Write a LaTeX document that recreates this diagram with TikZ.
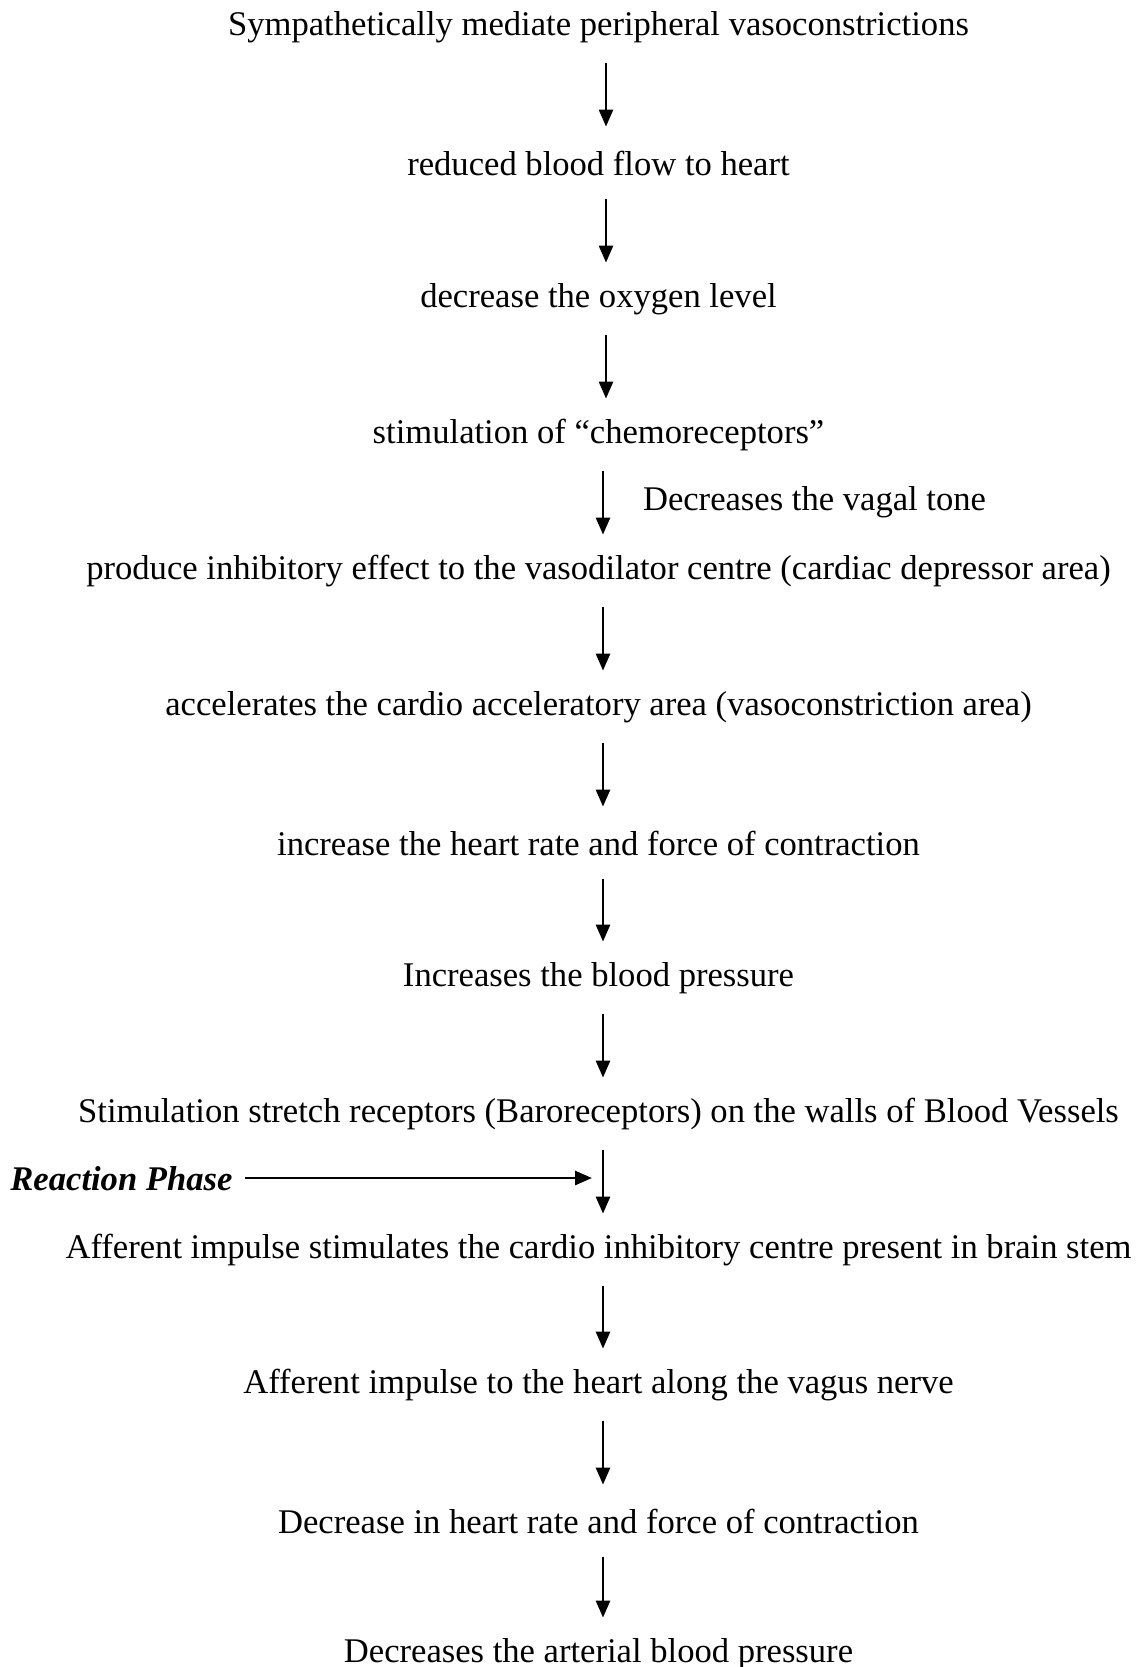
\documentclass[tikz,border=0pt]{standalone}
\usepackage{fontspec}
\setmainfont{Liberation Serif}
\usetikzlibrary{arrows.meta}
\begin{document}
\begin{tikzpicture}[x=0.5pt,y=-0.5pt,
  stepnode/.style={font=\fontsize{17.3}{20}\selectfont, inner sep=0pt, minimum height=36pt, anchor=center},
  arr/.style={line width=1.35pt, -{Triangle[length=8.5pt,width=7pt]}}]
\useasboundingbox (0,0) rectangle (1143,1667);
\node[stepnode] (n1)  at (598.5,27)   {Sympathetically mediate peripheral vasoconstrictions};
\node[stepnode] (n2)  at (598.5,163)  {reduced blood flow to heart};
\node[stepnode] (n3)  at (598.5,299)  {decrease the oxygen level};
\node[stepnode] (n4)  at (598.5,435)  {stimulation of “chemoreceptors”};
\node[stepnode] (n5)  at (598.5,571)  {produce inhibitory effect to the vasodilator centre (cardiac depressor area)};
\node[stepnode] (n6)  at (598.5,707)  {accelerates the cardio acceleratory area (vasoconstriction area)};
\node[stepnode] (n7)  at (598.5,843)  {increase the heart rate and force of contraction};
\node[stepnode] (n8)  at (598.5,978)  {Increases the blood pressure};
\node[stepnode] (n9)  at (598.5,1114) {Stimulation stretch receptors (Baroreceptors) on the walls of Blood Vessels};
\node[stepnode] (n10) at (598.5,1250) {Afferent impulse stimulates the cardio inhibitory centre present in brain stem};
\node[stepnode] (n11) at (598.5,1385) {Afferent impulse to the heart along the vagus nerve};
\node[stepnode] (n12) at (598.5,1521) {Decrease in heart rate and force of contraction};
\node[stepnode] (n13) at (598.5,1654) {Decreases the arterial blood pressure};
\node[stepnode] (vt) at (814.5,502) {Decreases the vagal tone};
\node[stepnode, font=\fontsize{17.3}{20}\selectfont\bfseries\itshape, anchor=west] (rp) at (10,1179) {Reaction Phase};
\coordinate (ax1) at (606,0);
\coordinate (ax2) at (603,0);
\draw[arr] (n1.south -| ax1) -- (n2.north -| ax1);
\draw[arr] (n2.south -| ax1) -- (n3.north -| ax1);
\draw[arr] (n3.south -| ax1) -- (n4.north -| ax1);
\draw[arr] (n4.south -| ax2) -- (n5.north -| ax2);
\draw[arr] (n5.south -| ax2) -- (n6.north -| ax2);
\draw[arr] (n6.south -| ax2) -- (n7.north -| ax2);
\draw[arr] (n7.south -| ax2) -- (n8.north -| ax2);
\draw[arr] (n8.south -| ax2) -- (n9.north -| ax2);
\draw[arr] (n9.south -| ax2) -- (n10.north -| ax2);
\draw[arr] (n10.south -| ax2) -- (n11.north -| ax2);
\draw[arr] (n11.south -| ax2) -- (n12.north -| ax2);
\draw[arr] (n12.south -| ax2) -- (n13.north -| ax2);
\coordinate (rpend) at (592,1178);
\draw[arr] ([xshift=6pt]rp.east |- rpend) -- (rpend);
\end{tikzpicture}
\end{document}
